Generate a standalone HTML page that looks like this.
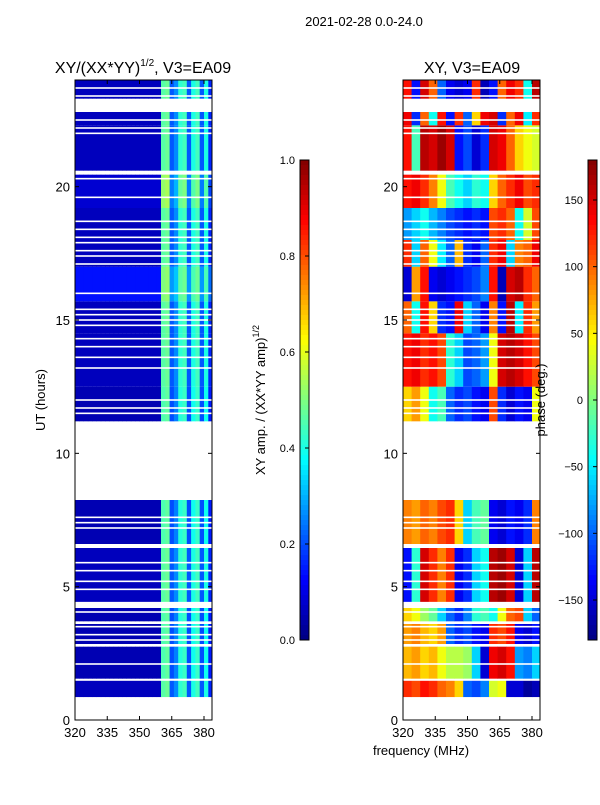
<!DOCTYPE html>
<html><head><meta charset="utf-8"><style>
body{margin:0;background:#fff;width:600px;height:800px;overflow:hidden;font-family:"Liberation Sans",sans-serif}
svg text{font-family:"Liberation Sans","DejaVu Sans",sans-serif;fill:#000}
</style></head><body>
<svg id="fig" width="600" height="800"></svg>
<script>
// ---- data ----
const segStart=[0.86,1.55,2.85,3.7,4.4,6.6,11.2,12.5,14.5,15.7,17.0,18.0,19.2,20.6,22.3,23.3];
const segEnd=[1.5,2.75,3.6,4.2,6.45,8.25,12.5,14.5,15.7,17.0,18.0,19.2,20.45,22.3,22.8,24.0];
const ampScale=[1,1,1,1,1,1,1,1,1,0.9,1,1,1.1,1,1,1];
const ampBase=[0.06,0.05,0.05,0.05,0.06,0.05,0.05,0.06,0.06,0.14,0.06,0.06,0.08,0.06,0.06,0.06];
const ampProfile=[0,0,0,0,0,0,0,0,0,0,0,0,0,0,0,0,0,0,0,0,0.4,0.42,0.15,0.2,0.36,0.38,0.15,0.34,0.38,0.15,0.34,0.1];
const phaseRows=[
[120,110,130,120,100,90,60,-100,-110,-90,30,40,-150,-150,-170,-160],
[70,80,60,70,40,20,20,10,-60,-150,140,150,130,-80,-90,-60],
[80,90,70,60,80,-100,-120,-110,-130,-140,120,110,130,-140,-150,-130],
[60,40,10,-10,-60,-100,-120,-90,-30,-20,-40,40,100,110,-60,-100],
[-130,-30,150,120,90,120,-140,-120,-60,-40,160,170,150,-150,-60,160],
[90,80,100,90,110,120,60,-60,-20,-10,-140,-150,-130,-140,-120,90],
[60,80,40,-40,-20,-100,-120,-110,-130,-140,110,-120,-150,-130,-140,40],
[130,140,120,130,110,-30,-60,-110,-100,-80,40,150,160,150,130,110],
[100,-40,130,60,-120,-130,140,-60,-100,-140,90,-130,160,-50,120,80],
[-150,80,130,-140,-150,-140,-130,-120,-110,-90,130,-160,150,160,120,100],
[120,-60,100,40,-50,-100,70,-120,-140,-100,120,140,-60,90,100,140],
[-80,-60,-40,-70,-90,-110,-120,-130,-120,-130,110,120,100,-40,30,110],
[130,140,120,90,40,-20,-40,-60,-30,-40,60,100,120,140,110,120],
[130,-20,160,150,170,150,-130,-110,-150,-120,150,140,100,60,40,30],
[140,-120,100,-40,130,-130,120,-100,60,140,150,-120,100,140,-50,120],
[130,-130,150,100,-100,-140,-150,-140,120,-160,-130,100,140,120,-40,160]
];
const gapLines=[1.5,2.1,3.0,3.2,3.5,4.05,4.4,4.9,5.2,5.6,5.9,7.2,7.4,7.6,11.5,11.7,12.0,13.2,13.6,14.0,14.3,14.8,15.0,15.2,15.4,16.0,17.1,17.4,17.6,17.9,18.1,18.4,18.7,19.6,20.3,22.0,22.2,22.5,23.4,23.7];
const xTicks=[320,335,350,365,380];
const yTicks=[0,5,10,15,20];
const cb1Ticks=[0.0,0.2,0.4,0.6,0.8,1.0];
const cb2Ticks=[-150,-100,-50,0,50,100,150];

// ---- helpers ----
const NS="http://www.w3.org/2000/svg";
const svg=document.getElementById('fig');
function mk(t,a,p){const e=document.createElementNS(NS,t);for(const k in a)e.setAttribute(k,a[k]);(p||svg).appendChild(e);return e;}
function jet(v){v=Math.max(0,Math.min(1,v));
 const r=Math.max(0,Math.min(1,1.5-Math.abs(4*v-3))),g=Math.max(0,Math.min(1,1.5-Math.abs(4*v-2))),b=Math.max(0,Math.min(1,1.5-Math.abs(4*v-1)));
 return `rgb(${Math.round(r*255)},${Math.round(g*255)},${Math.round(b*255)})`;}
const Y0=720,Y1=80;
function yS(h){return Y0-(h/24)*(Y0-Y1);}
function xS(x0,f){return x0+(f-320)*2.15;}

function panel(x0,name,cellFn,nCols){
 const g=mk('g',{});
 
 
 for(let s=0;s<segStart.length;s++){
  for(let c=0;c<nCols;c++){
   const f0=320+c*(64/nCols),f1=f0+64/nCols;
   const x1=xS(x0,f0),x2=Math.min(xS(x0,f1),x0+137);
   const r=mk('rect',{x:x1,y:yS(segEnd[s]),width:x2-x1+0.4,height:yS(segStart[s])-yS(segEnd[s]),fill:cellFn(s,c)},g);
   
   
  }
 }
 gapLines.forEach(h=>{
  const r=mk('rect',{x:x0,y:yS(h)-0.8,width:137,height:1.6,fill:'#fff'},g);
  
  
 });
 const fr=mk('rect',{x:x0,y:Y1,width:137,height:Y0-Y1,fill:'none',stroke:'#000','stroke-width':1});
 
 
 xTicks.forEach(t=>{const x=xS(x0,t);
  mk('line',{x1:x,x2:x,y1:Y0,y2:Y0-4,stroke:'#000'});mk('line',{x1:x,x2:x,y1:Y1,y2:Y1+4,stroke:'#000'});
  const tx=mk('text',{x:x,y:Y0+17,'font-size':13,'text-anchor':'middle'});tx.textContent=t;
  
  
 });
 yTicks.forEach(t=>{const y=yS(t);
  mk('line',{x1:x0,x2:x0+4,y1:y,y2:y,stroke:'#000'});mk('line',{x1:x0+137,x2:x0+133,y1:y,y2:y,stroke:'#000'});
  const tx=mk('text',{x:x0-5,y:y+5,'font-size':13,'text-anchor':'end'});tx.textContent=t;
  
  
 });
}
panel(75,'amplitude-heatmap',(s,c)=>jet(ampBase[s]+ampProfile[c]*ampScale[s]),32);
panel(403,'phase-heatmap',(s,c)=>jet((phaseRows[s][c]+180)/360),16);

function colorbar(x,name,ticks,vmin,vmax){
 const g=mk('g',{});
 
 
 for(let i=0;i<96;i++){mk('rect',{x:x,y:160+i*5,width:9,height:5.4,fill:jet(1-(i+0.5)/96)},g);}
 mk('rect',{x:x,y:160,width:9,height:480,fill:'none',stroke:'#000'},g);
 ticks.forEach(t=>{const y=640-(t-vmin)/(vmax-vmin)*480;
  mk('line',{x1:x+9,x2:x+5,y1:y,y2:y,stroke:'#000'},g);
  const tx=mk('text',{x:x-5,y:y+4,'font-size':11,'text-anchor':'end'},g);
  tx.textContent=(vmax<=1?t.toFixed(1):(t<0?'\u2212'+(-t):t));
  
  
 });
}
colorbar(300,'amplitude-colorbar',cb1Ticks,0,1);
colorbar(588,'phase-colorbar',cb2Ticks,-180,180);

function txt(x,y,s,size,name,rot,anchor){
 const t=mk('text',{x:x,y:y,'font-size':size,'text-anchor':anchor||'middle'});
 if(rot)t.setAttribute('transform',`rotate(-90 ${x} ${y})`);
 t.innerHTML=s;
 
 
 return t;
}
txt(364,26,'2021-02-28 0.0-24.0',13,'figure-title');
txt(143,73,'XY/(XX*YY)<tspan font-size="10" dy="-7">1/2</tspan><tspan dy="7">, V3=EA09</tspan>',16,'left-panel-title');
txt(472,73,'XY, V3=EA09',16,'right-panel-title');
txt(45,400,'UT (hours)',13,'y-axis-title',true);
txt(265,400,'XY amp. / (XX*YY amp)<tspan font-size="9" dy="-6">1/2</tspan>',13,'amplitude-colorbar-label',true);
txt(545,400,'phase (deg.)',13,'phase-colorbar-label',true);
txt(421,755,'frequency (MHz)',13,'x-axis-title');
</script>
</body></html>
